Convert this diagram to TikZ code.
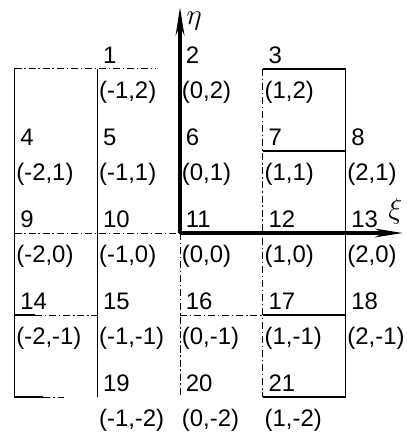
\documentclass[tikz,border=0pt]{standalone}
\usepackage{fontspec}
\setmainfont{Liberation Sans}
\usetikzlibrary{arrows.meta}

\begin{document}
\begin{tikzpicture}[x=2.069cm,y=2.05cm,font=\fontsize{17}{20}\selectfont,
  num/.style={anchor=base west,inner sep=0pt,xshift=1.4mm,yshift=1.3mm},
  crd/.style={anchor=north west,inner sep=0pt,xshift=0.4mm,yshift=-2.9mm},
  greek/.style={font=\fontsize{21}{25}\selectfont,inner sep=1pt},
  edge/.style={line width=1pt},
  aux/.style={line width=0.7pt,dash pattern=on 5pt off 2pt on 1pt off 2pt},
  axis/.style={line width=2.2pt,-{Stealth[length=7mm,width=2.2mm]}}]
\useasboundingbox (-2.175,-2.585) rectangle (2.731,2.841);
% grid points
\foreach \x in {-2,...,2}
  \foreach \y in {-2,...,2}
    \coordinate (g\x\y) at (\x,\y);
% top and bottom rows
\foreach \x in {-1,0,1} {
  \pgfmathtruncatemacro{\k}{\x+2}
  \node[num] (n\k) at (g\x2) {\k};
  \node[crd] (c\k) at (g\x2) {(\x,2)};
  \pgfmathtruncatemacro{\k}{\x+20}
  \node[num] (n\k) at (g\x-2) {\k};
  \node[crd] (c\k) at (g\x-2) {(\x,-2)};
}
% middle rows
\foreach \y [count=\r] in {1,0,-1}
  \foreach \x in {-2,...,2} {
    \pgfmathtruncatemacro{\k}{5*\r+1+\x}
    \node[num] (n\k) at (g\x\y) {\k};
    \node[crd] (c\k) at (g\x\y) {(\x,\y)};
  }
% solid lines
\draw[edge] (g-22) -- (g-2-2);
\draw[edge] (g-12) -- (g-1-2);
\draw[edge] (g22) -- (g2-2);
\draw[edge] (g12) -- (g22) (g11) -- (g21) (g1-1) -- (g2-1) (g1-2) -- (g2-2);
\draw[edge] (g-2-1) -- ++(0.25,0) (g-2-2) -- ++(0.35,0);
% dash-dot lines
\draw[aux] (g-22) -- ++(1.7,0);
\draw[aux] (g-20) -- (g00);
\draw[aux] (g-2-1) ++(0.25,0) -- (g-1-1);
\draw[aux] (g0-1) -- (g1-1);
\draw[aux] (g-2-2) ++(0.35,0) -- ++(0.25,0);
\draw[aux] (g12) -- (g1-2);
\draw[aux] (g00) -- (g0-2);
% axes
\coordinate (etatip) at (0,2.75);
\coordinate (xitip) at (2.69,0);
\draw[axis] (g00) -- (etatip);
\draw[axis] (g00) -- (xitip);
\node[greek] (eta) at (0.17,2.58) {$\eta$};
\node[greek] (xi) at (2.6,0.27) {$\xi$};
\end{tikzpicture}
\end{document}
